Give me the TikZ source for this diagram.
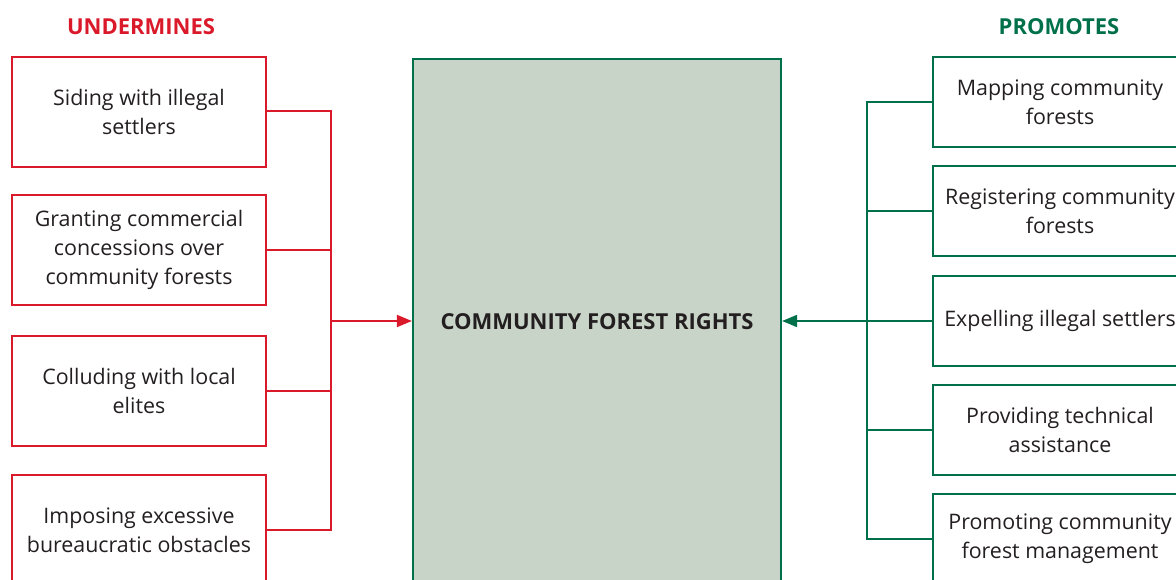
\documentclass[tikz,border=0pt]{standalone}
\usepackage{fontspec}
\setmainfont{Open Sans}
\usetikzlibrary{arrows.meta}
\definecolor{ured}{HTML}{DA1A2A}
\definecolor{pgreen}{HTML}{00704A}
\definecolor{cfill}{HTML}{C9D4C8}
\definecolor{txt}{HTML}{231F20}
\tikzset{
  redbox/.style={draw=ured, line width=2.2pt, fill=white, minimum width=254pt, minimum height=110pt, align=center, text=txt, font=\fontsize{21.4}{29}\selectfont, inner sep=0pt},
  greenbox/.style={draw=pgreen, line width=2.2pt, fill=white, minimum width=254pt, minimum height=90pt, align=center, text=txt, font=\fontsize{21.4}{29}\selectfont, inner sep=0pt},
  redline/.style={draw=ured, line width=1.8pt},
  greenline/.style={draw=pgreen, line width=1.8pt},
  title/.style={font=\bfseries\fontsize{22}{24}\selectfont}
}
\begin{document}
\begin{tikzpicture}[x=1pt,y=-1pt]
\useasboundingbox (0,0) rectangle (1176,580);
\clip (0,0) rectangle (1176,580);
\node[title, text=ured] (tu) at (141,27) {UNDERMINES};
\node[title, text=pgreen] (tp) at (1059,27) {PROMOTES};
% central
\node[draw=pgreen, line width=2.2pt, fill=cfill, minimum width=368pt, minimum height=560pt, anchor=north, inner sep=0pt] (c) at (597,58) {};
\node[font=\bfseries\fontsize{22}{24}\selectfont, text=txt] (ct) at (597,322) {COMMUNITY FOREST RIGHTS};
% left boxes
\node[redbox] (l1) at (139,112) {Siding with illegal\\settlers};
\node[redbox] (l2) at (139,250) {Granting commercial\\concessions over\\community forests};
\node[redbox] (l3) at (139,391) {Colluding with local\\elites};
\node[redbox] (l4) at (139,530) {Imposing excessive\\bureaucratic obstacles};
\coordinate (lt) at (331,111);
\coordinate (lb) at (331,530);
\coordinate (lm) at (331,321);
\draw[redline] (l1.east |- lt) -- (lt) -- (lb) -- (l4.east);
\draw[redline] (l2.east) -- (l2.east -| lt);
\draw[redline] (l3.east) -- (l3.east -| lt);
\draw[redline, -{Triangle[length=15pt,width=12pt]}] (lm) -- (lm -| c.west);
% right boxes
\node[greenbox] (r1) at (1060,102) {Mapping community\\forests};
\node[greenbox] (r2) at (1060,211) {Registering community\\forests};
\node[greenbox] (r3) at (1060,321) {Expelling illegal settlers};
\node[greenbox] (r4) at (1060,430) {Providing technical\\assistance};
\node[greenbox] (r5) at (1060,539) {Promoting community\\forest management};
\coordinate (rt) at (867,102);
\coordinate (rb) at (867,539);
\coordinate (rm) at (867,321);
\draw[greenline] (r1.west) -- (rt) -- (rb) -- (r5.west);
\draw[greenline] (r2.west) -- (r2.west -| rt);
\draw[greenline] (r4.west) -- (r4.west -| rt);
\draw[greenline, -{Triangle[length=15pt,width=12pt]}] (r3.west) -- (rm -| c.east);
\end{tikzpicture}
\end{document}
